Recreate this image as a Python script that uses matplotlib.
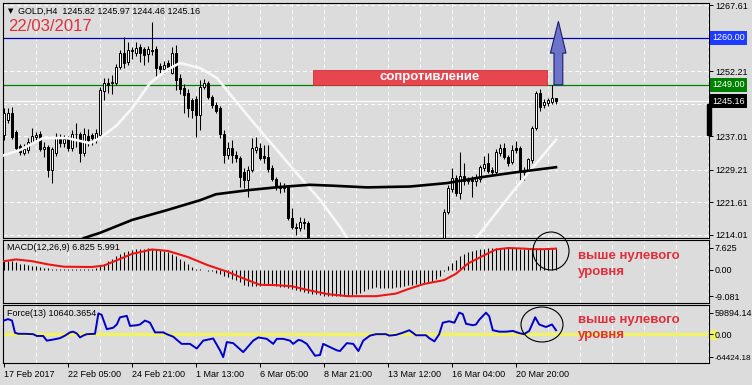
import numpy as np
import matplotlib.pyplot as plt
from matplotlib.patches import Rectangle, Ellipse, Polygon
from matplotlib.transforms import Affine2D, blended_transform_factory

# ---- price data, GOLD H4 (bar 0 = 17 Feb 2017) ----
opens = [
    1237.3, 1240.8, 1242.4, 1238.0, 1234.8, 1233.1, 1233.8, 1235.7, 1236.9, 1237.5,
    1234.0, 1234.5, 1229.2, 1233.1, 1236.8, 1235.4, 1236.6, 1234.3, 1237.5, 1237.5,
    1233.1, 1237.0, 1237.2, 1236.1, 1237.3, 1247.6, 1249.4, 1249.5, 1249.5, 1253.2,
    1256.4, 1254.3, 1257.1, 1256.4, 1257.8, 1257.3, 1256.2, 1257.0, 1257.4, 1253.3,
    1252.6, 1254.1, 1251.8, 1256.4, 1250.6, 1248.2, 1247.1, 1245.4, 1245.7, 1242.0,
    1248.5, 1249.4, 1246.2, 1244.3, 1243.6, 1237.5, 1232.6, 1234.3, 1232.6, 1231.9,
    1228.7, 1226.8, 1229.2, 1233.7, 1234.3, 1232.3, 1232.2, 1229.6, 1227.0, 1225.3,
    1224.9, 1225.2, 1218.0, 1215.8, 1215.6, 1217.0, 1216.8, 1212.5, 1208.0, 1205.0,
    1206.0, 1204.0, 1200.0, 1198.0, 1199.5, 1197.0, 1199.0, 1202.0, 1204.0, 1205.5,
    1204.0, 1203.0, 1204.5, 1202.5, 1201.0, 1203.0, 1201.5, 1200.0, 1202.0, 1203.5,
    1202.0, 1203.0, 1205.0, 1204.0, 1203.5, 1205.5, 1206.5, 1205.0, 1206.0, 1207.5,
    1206.0, 1219.4, 1224.8, 1227.3, 1223.8, 1227.8, 1226.5, 1226.8, 1226.5, 1227.0,
    1229.6, 1230.8, 1229.2, 1228.8, 1233.1, 1234.3, 1232.2, 1231.0, 1234.3, 1234.3,
    1228.7, 1229.0, 1231.5, 1239.0, 1247.1, 1244.3, 1244.8, 1245.0, 1245.82]
highs = [
    1243.6, 1243.6, 1243.8, 1238.5, 1235.1, 1235.3, 1236.6, 1238.9, 1238.0, 1238.2,
    1235.6, 1235.0, 1234.5, 1237.8, 1237.5, 1237.3, 1237.1, 1238.4, 1240.1, 1238.0,
    1238.9, 1238.6, 1237.8, 1238.6, 1248.5, 1250.6, 1250.5, 1251.3, 1253.8, 1257.1,
    1260.1, 1258.9, 1257.8, 1259.0, 1258.5, 1257.8, 1258.0, 1263.6, 1258.0, 1254.1,
    1254.5, 1254.9, 1257.8, 1258.3, 1251.5, 1249.1, 1248.0, 1246.0, 1246.5, 1250.1,
    1250.4, 1249.8, 1246.6, 1245.0, 1244.0, 1238.5, 1235.7, 1236.2, 1233.5, 1232.4,
    1229.6, 1230.0, 1236.6, 1236.8, 1235.5, 1234.9, 1235.0, 1230.4, 1227.5, 1226.3,
    1226.1, 1225.6, 1220.3, 1216.8, 1218.3, 1218.0, 1217.2, 1213.0, 1209.5, 1207.0,
    1208.0, 1205.0, 1202.0, 1200.5, 1201.0, 1200.0, 1203.0, 1205.0, 1206.5, 1207.0,
    1206.0, 1205.5, 1206.0, 1204.0, 1203.5, 1205.0, 1203.0, 1202.5, 1204.5, 1205.0,
    1204.0, 1205.5, 1206.5, 1205.5, 1206.0, 1207.5, 1208.0, 1207.0, 1208.5, 1209.0,
    1220.0, 1225.6, 1229.6, 1228.0, 1233.3, 1230.8, 1227.5, 1227.8, 1228.3, 1230.4,
    1232.4, 1233.0, 1229.8, 1234.0, 1235.2, 1235.4, 1232.6, 1235.0, 1235.9, 1234.8,
    1229.8, 1232.0, 1239.3, 1247.6, 1248.0, 1245.6, 1246.0, 1249.0, 1245.97]
lows = [
    1236.1, 1240.1, 1236.3, 1233.9, 1232.6, 1232.6, 1233.2, 1235.2, 1236.2, 1233.5,
    1232.2, 1227.5, 1226.1, 1232.4, 1234.6, 1234.6, 1233.5, 1233.5, 1234.5, 1231.0,
    1232.4, 1234.8, 1235.0, 1235.5, 1236.8, 1245.4, 1247.1, 1246.8, 1248.9, 1252.7,
    1253.0, 1253.6, 1255.1, 1255.7, 1254.3, 1253.6, 1254.3, 1256.0, 1250.8, 1251.7,
    1251.7, 1252.4, 1251.5, 1247.8, 1246.9, 1242.4, 1241.4, 1241.2, 1236.8, 1238.5,
    1248.0, 1245.6, 1243.6, 1242.5, 1236.7, 1230.8, 1231.7, 1230.8, 1231.1, 1225.2,
    1225.0, 1222.9, 1228.8, 1233.0, 1231.5, 1230.8, 1228.8, 1226.5, 1224.5, 1223.9,
    1224.0, 1217.6, 1215.3, 1214.0, 1215.0, 1215.5, 1211.0, 1207.0, 1204.0, 1202.5,
    1203.0, 1199.0, 1196.5, 1196.0, 1195.5, 1196.0, 1198.0, 1201.0, 1202.5, 1203.0,
    1202.0, 1201.5, 1202.0, 1200.0, 1199.5, 1201.0, 1199.0, 1198.5, 1200.5, 1201.5,
    1200.0, 1202.0, 1203.0, 1202.5, 1203.0, 1204.0, 1204.5, 1203.5, 1205.0, 1205.5,
    1205.5, 1218.8, 1224.0, 1223.0, 1222.5, 1225.6, 1225.9, 1222.8, 1225.5, 1226.4,
    1229.0, 1228.5, 1228.0, 1228.0, 1232.5, 1231.8, 1230.0, 1230.6, 1233.0, 1226.9,
    1226.9, 1228.2, 1230.8, 1238.5, 1243.0, 1243.5, 1244.0, 1244.5, 1244.46]
closes = [
    1242.4, 1242.4, 1236.8, 1234.3, 1233.4, 1234.0, 1235.7, 1237.1, 1237.2, 1234.0,
    1234.6, 1229.2, 1234.0, 1236.8, 1235.4, 1236.3, 1234.3, 1237.5, 1237.6, 1233.1,
    1237.5, 1236.2, 1236.5, 1237.7, 1247.8, 1249.4, 1249.0, 1249.6, 1253.2, 1256.4,
    1254.1, 1257.1, 1256.9, 1257.6, 1256.4, 1256.0, 1257.3, 1257.2, 1253.0, 1252.6,
    1253.7, 1253.2, 1256.4, 1250.1, 1248.1, 1246.6, 1243.6, 1243.1, 1242.0, 1248.5,
    1249.4, 1246.2, 1244.3, 1242.9, 1237.5, 1232.6, 1234.3, 1232.6, 1232.0, 1227.5,
    1226.8, 1229.2, 1234.3, 1234.4, 1232.0, 1232.0, 1229.3, 1227.0, 1225.3, 1224.9,
    1225.3, 1218.0, 1215.9, 1215.6, 1217.0, 1216.8, 1212.0, 1208.0, 1205.0, 1206.0,
    1204.0, 1200.0, 1198.0, 1199.5, 1197.0, 1199.0, 1202.0, 1204.0, 1205.5, 1204.0,
    1203.0, 1204.5, 1202.5, 1201.0, 1203.0, 1201.5, 1200.0, 1202.0, 1203.5, 1202.0,
    1203.0, 1205.0, 1204.0, 1203.5, 1205.5, 1206.5, 1205.0, 1206.0, 1207.5, 1206.0,
    1219.4, 1225.0, 1227.3, 1223.8, 1227.8, 1226.5, 1226.8, 1226.5, 1227.3, 1229.8,
    1230.6, 1229.0, 1228.8, 1233.3, 1234.3, 1232.2, 1230.8, 1233.8, 1233.8, 1228.7,
    1229.0, 1231.7, 1238.9, 1247.1, 1243.8, 1245.0, 1245.5, 1246.0, 1245.16]

# moving averages (bar index, price)
ma_fast_x = [0, 4, 9.75, 15.75, 21.5, 24, 28.25, 32.25, 36.5, 40.75, 44, 49, 53.25,
             57.25, 61.5, 65.75, 69, 74, 79, 84, 88, 95, 103, 110, 115, 118.25, 128, 138]
ma_fast_y = [1232.6, 1233.8, 1236.6, 1236.6, 1235.4, 1236.6, 1239.6, 1243.8, 1249.4,
             1252.5, 1254.1, 1252.9, 1250.6, 1246.0, 1241.2, 1236.5, 1233.0, 1227.5,
             1222.2, 1215.9, 1210.0, 1203.0, 1201.0, 1203.0, 1208.0, 1213.5, 1225.0, 1236.2]
ma_slow_x = [0, 10, 20, 24, 32, 40.75, 49, 53, 61.5, 69, 76.5, 82, 90.75, 101.5,
             110.75, 119.5, 127, 138]
ma_slow_y = [1203.0, 1207.5, 1213.3, 1214.5, 1217.5, 1219.8, 1222.1, 1223.5, 1224.5,
             1225.2, 1225.7, 1225.5, 1225.1, 1225.3, 1226.1, 1227.5, 1228.5, 1229.8]

# MACD(12,26,9): histogram per bar, signal line points
macd_hist = [
    3.3, 3.1, 3.0, 2.6, 2.2, 2.0, 1.7, 1.4, 1.2, 0.9,
    0.7, 0.5, 0.3, 0.3, 0.3, 0.3, 0.3, 0.3, 0.3, 0.3,
    0.3, 0.4, 0.4, 0.5, 1.5, 2.2, 3.2, 3.9, 4.8, 5.6,
    6.0, 6.4, 6.7, 7.0, 7.2, 7.3, 7.4, 7.3, 7.2, 6.9,
    6.6, 6.0, 5.3, 4.7, 3.6, 3.0, 1.9, 0.9, 0.4, 0.2,
    0.1, -0.2, -0.5, -0.9, -1.3, -2.0, -2.5, -3.0, -3.5, -4.2,
    -5.0, -5.5, -5.5, -5.4, -5.4, -5.3, -5.2, -5.3, -5.5, -5.7,
    -5.9, -6.1, -6.5, -6.9, -7.3, -7.6, -7.9, -8.2, -8.4, -8.6,
    -8.8, -8.9, -9.0, -9.05, -9.08, -9.0, -8.9, -8.7, -8.3, -7.8,
    -7.2, -6.7, -6.3, -6.0, -6.1, -6.2, -6.3, -6.2, -6.0, -5.8,
    -5.6, -5.3, -5.1, -4.9, -4.7, -4.5, -4.2, -3.8, -3.2, -2.0,
    -0.3, 1.2, 2.4, 3.5, 4.6, 5.5, 6.0, 6.4, 6.7, 7.0,
    7.2, 7.4, 7.5, 7.6, 7.6, 7.62, 7.6, 7.5, 7.4, 7.3,
    7.2, 7.2, 7.3, 7.4, 7.4, 7.3, 7.3, 7.4, 7.5]
signal_x = [0, 3, 7, 11, 15, 22, 25, 28, 32, 37, 41, 46, 51, 56, 60, 64, 68, 72, 76,
            81, 86, 93, 98, 101, 105, 110, 113, 116, 120, 123, 126, 130, 132, 135, 138]
signal_y = [3.0, 3.6, 3.0, 1.9, 1.1, 1.0, 1.5, 3.2, 5.5, 7.0, 6.5, 4.4, 1.6, -0.7,
            -3.0, -5.1, -5.2, -5.6, -6.9, -8.3, -9.0, -9.0, -8.1, -6.6, -4.8, -3.5,
            -1.3, 2.2, 5.0, 7.0, 7.5, 7.3, 7.1, 7.1, 7.3]

# Force(13), thousands
force_x = [0, 1, 2, 2.75, 3.6, 5.25, 7.3, 8.2, 9.8, 10.7, 12.3, 14, 15.25, 16.5, 17.3,
           18.2, 19, 19.8, 20.7, 22.75, 23.6, 24.4, 25.7, 27.3, 28.2, 29, 30.7, 31.5,
           33.2, 34, 35.25, 36.5, 37.75, 39.8, 40.7, 42.3, 44.4, 46.5, 48.2, 49.8, 52.3,
           54, 54.8, 55.7, 57.3, 59.8, 62.3, 63.6, 65.7, 67.3, 68.2, 69.8, 71.5, 72.3,
           73.6, 74.4, 75.7, 77.75, 79, 79.8, 81.5, 83.2, 84, 85.7, 87.3, 88.6, 89.8,
           91.5, 93, 95.5, 96.3, 98, 99.7, 101.3, 102.2, 103, 105.5, 106.3, 107.6,
           108.8, 109.7, 111.3, 112.6, 113.8, 114.7, 115.5, 117.2, 118, 118.8, 120.5,
           121.3, 122.2, 123.8, 125.5, 127.2, 128.8, 130, 131.3, 132.8, 133.8, 135.5,
           137, 138]
force_y = [38, 42, 38, 4, 1, 1, 0, -5, -5, -18, -15, -11, -4, 5, 7,
           2, -9, -4, 0, 1, 58, 54, 14, 18, 27, 47, 51, 23,
           25, 27, 38, 32, 5, 5, 0, -7, -27, -27, -40, -18, -12,
           -45, -64, -22, -25, -50, -18, -9, -13, -27, -13, -13, -18, -27,
           -16, -18, -27, -60, -58, -27, -36, -45, -47, -25, -27, -47, -18,
           -4, 0, 0, -4, -2, 4, 11, 4, -3, -3, -11, -20,
           0, 32, 36, 32, 60, 56, 29, 25, 27, 40, 60,
           50, 11, 7, 7, 9, 3, 0, 9, 47, 27, 20,
           27, 11]
force_y = [v * 1000 for v in force_y]

price_ticks = [1267.61, 1252.21, 1237.01, 1229.21, 1221.61, 1214.01]
price_grid = [1267.61, 1260.01, 1252.21, 1244.61, 1237.01, 1229.21, 1221.61, 1214.01]
date_ticks = [0, 16, 32, 48, 64, 80, 96, 112, 128]
date_labels = ['17 Feb 2017', '22 Feb 05:00', '24 Feb 21:00', '1 Mar 13:00',
               '6 Mar 05:00', '8 Mar 21:00', '13 Mar 12:00', '16 Mar 04:00',
               '20 Mar 20:00']
resistance, target = 1249.00, 1260.00

# ---- figure ----
W, H = 752, 385
bg = '#DCDCDC'
plt.rcParams['font.family'] = ['Liberation Sans', 'DejaVu Sans']
fig = plt.figure(figsize=(W / 100, H / 100), dpi=100)
fig.patch.set_facecolor(bg)
pix = Affine2D().scale(1 / W, -1 / H).translate(0, 1) + fig.transFigure


def box(x0, y0, x1, y1):
    return [x0 / W, 1 - y1 / H, (x1 - x0) / W, (y1 - y0) / H]


ax = fig.add_axes(box(3, 3, 709, 238))
ax_m = fig.add_axes(box(3, 240, 709, 303), sharex=ax)
ax_f = fig.add_axes(box(3, 305, 709, 363), sharex=ax)
fs = 6.5
dash = (0, (4, 3))

for a in (ax, ax_m, ax_f):
    a.set_facecolor(bg)
    for s in a.spines.values():
        s.set_color('black')
        s.set_linewidth(0.8)
    a.yaxis.tick_right()
    a.tick_params(axis='y', length=3, width=0.7, pad=1.2, labelsize=fs)
    a.tick_params(axis='x', length=3, width=0.7, pad=2, labelsize=fs)
    for g in range(8, 177, 8):
        a.axvline(g, color='white', lw=0.7, ls=dash, zorder=0.5)
ax.tick_params(axis='x', bottom=False, labelbottom=False)
ax_m.tick_params(axis='x', bottom=False, labelbottom=False)
ax.set_xlim(-0.25, 176.25)

# price panel
idx = np.arange(len(closes))
o, hi, lo, c = (np.array(v) for v in (opens, highs, lows, closes))
for p in price_grid:
    ax.axhline(p, color='white', lw=0.7, ls=dash, zorder=0.5)
ax.axhline(closes[-1], color='white', lw=0.8, zorder=1)
ax.axhline(target, color='#0000C0', lw=0.9, zorder=1.5)
ax.axhline(resistance, color='#008000', lw=0.9, zorder=1.5)
ax.vlines(idx, lo, hi, color='black', lw=0.75, zorder=3)
up = c >= o
bottom = np.minimum(o, c)
height = np.maximum(np.abs(c - o), 0.08)
ax.bar(idx[up], height[up], bottom=bottom[up], width=0.6, color='white',
       edgecolor='black', lw=0.7, zorder=4)
ax.bar(idx[~up], height[~up], bottom=bottom[~up], width=0.6, color='black',
       edgecolor='black', lw=0.7, zorder=4)
ax.plot(ma_fast_x, ma_fast_y, color='#F8F8F8', lw=1.9, zorder=5)
ax.plot(ma_slow_x, ma_slow_y, color='black', lw=1.9, zorder=5)
ax.set_ylim(1213.3, 1268.08)
ax.set_yticks(price_ticks)
ax.set_yticklabels([f'{p:.2f}' for p in price_ticks])

# resistance box and arrow
ax.add_patch(Rectangle((77.25, resistance), 58.5, 3.45, fc='#E8464E', ec='#D03038',
                       lw=0.6, zorder=6))
ax.text(106.5, resistance + 1.72, 'сопротивление', color='white', fontsize=9.5,
        fontweight='bold', ha='center', va='center', zorder=7)
ax.add_patch(Polygon([(137.5, resistance), (139.7, resistance), (139.7, 1256.4),
                      (140.5, 1256.4), (138.6, 1263.8), (136.6, 1256.4),
                      (137.5, 1256.4)], closed=True, fc='#6B74C9', ec='#1C1C6E',
                     lw=0.8, zorder=7))

# right-hand price labels
bt = blended_transform_factory(ax.transAxes, ax.transData)
for val, col in ((target, '#1E3CFF'), (resistance, '#008000'), (closes[-1], 'black')):
    ax.text(1.0045, val, f'{val:.2f}', transform=bt, color='white', fontsize=fs,
            ha='left', va='center', clip_on=False,
            bbox=dict(boxstyle='square,pad=0.28', fc=col, ec='none'))
fig.add_artist(Rectangle((707, 104), 4, 31, transform=pix, color='black'))

fig.text(8, 11, '▼', transform=pix, fontsize=5, va='center', ha='left',
         family='DejaVu Sans')
fig.text(18, 11, 'GOLD,H4  1245.82 1245.97 1244.46 1245.16', transform=pix,
         fontsize=fs, va='center', ha='left')
fig.text(8, 26.5, '22/03/2017', transform=pix, fontsize=12, color='#E0303A',
         va='center', ha='left')

# MACD panel
ax_m.vlines(idx, 0, macd_hist, color='black', lw=0.75, zorder=2)
ax_m.plot(signal_x, signal_y, color='#EE1515', lw=1.5, zorder=3)
ax_m.set_ylim(-11.33, 10.25)
ax_m.set_yticks([7.625, 0, -9.081])
ax_m.set_yticklabels(['7.625', '0.00', '-9.081'])
fig.text(7, 247, 'MACD(12,26,9) 6.825 5.991', transform=pix, fontsize=fs,
         va='center', ha='left')

# Force panel
ax_f.axhline(0, color='#F2F266', lw=2.4, zorder=1)
ax_f.plot(force_x, force_y, color='#0000CC', lw=1.4, zorder=3)
ax_f.set_ylim(-80300, 81300)
ax_f.set_yticks([59894.14, 0, -64424.18])
ax_f.set_yticklabels(['59894.14', '0.00', '-64424.18'])
ax_f.get_yticklabels()[-1].set_fontsize(5.9)
fig.add_artist(Rectangle((710, 330), 6, 9, transform=pix, color='#F2F266', zorder=-1))
fig.text(7, 313, 'Force(13) 10640.3654', transform=pix, fontsize=fs,
         va='center', ha='left')
ax_f.set_xticks(date_ticks)
ax_f.set_xticklabels(date_labels, ha='left')

# annotations
red = '#E0303A'
for cy in (256.5, 319.5):
    fig.text(578, cy, 'выше нулевого', transform=pix, fontsize=9.5, color=red,
             fontweight='bold', va='center', ha='left')
    fig.text(578, cy + 15.5, 'уровня', transform=pix, fontsize=9.5, color=red,
             fontweight='bold', va='center', ha='left')
fig.add_artist(Ellipse((551, 251), 36, 38, transform=pix, fill=False,
                       ec='black', lw=0.8))
fig.add_artist(Ellipse((542, 324.5), 42, 35, transform=pix, fill=False,
                       ec='black', lw=0.8))

fig.savefig('out.png', dpi=100, facecolor=bg)
